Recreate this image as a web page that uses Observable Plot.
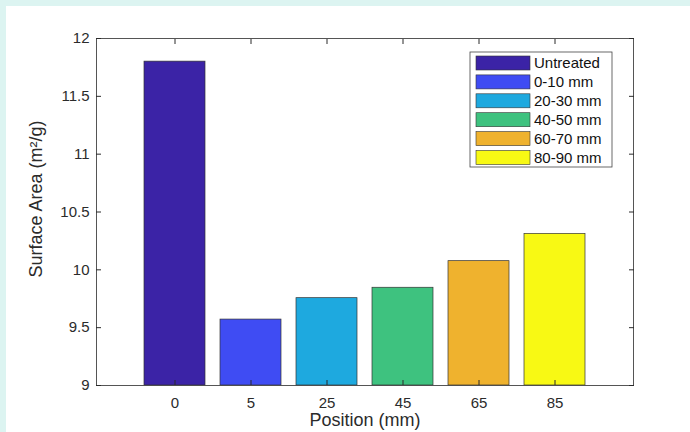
<!DOCTYPE html>
<html><head><meta charset="utf-8">
<script src="https://cdn.jsdelivr.net/npm/d3@7"></script>
<script src="https://cdn.jsdelivr.net/npm/@observablehq/plot@0.6"></script>
<style>
html,body{margin:0;padding:0;background:#dcf4f1;}
#chart{position:absolute;left:6px;top:6px;width:684px;height:426px;background:#fff;overflow:hidden}
</style></head><body><div id="chart"></div>
<script>
const positions = ["0", "5", "25", "45", "65", "85"];
const labels = ["Untreated", "0-10 mm", "20-30 mm", "40-50 mm", "60-70 mm", "80-90 mm"];
const values = [11.80, 9.57, 9.755, 9.845, 10.075, 10.31];
const yTicks = [9, 9.5, 10, 10.5, 11, 11.5, 12];
const colors = ["#3b23a6", "#3f4cf3", "#1ea9df", "#3ec27f", "#efb22e", "#f8f914"];
const yLabel = "Surface Area (m²/g)";
const xLabel = "Position (mm)";

const data = positions.map((p, i) => ({pos: p, label: labels[i], value: values[i]}));
const font = "'Liberation Sans', Arial, Helvetica, sans-serif";

const plot = Plot.plot({
  width: 684, height: 426,
  marginLeft: 90, marginRight: 57, marginTop: 32, marginBottom: 47,
  style: {background: "white", fontFamily: font, fontSize: "15px", color: "#2b2b2b"},
  x: {domain: positions, paddingInner: 0.2, paddingOuter: 0.6, label: null},
  y: {domain: [yTicks[0], yTicks[yTicks.length - 1]], label: null},
  color: {domain: labels, range: colors},
  marks: [
    Plot.barY(data, {x: "pos", y1: yTicks[0], y2: "value", fill: "label", stroke: "#333", strokeWidth: 0.7}),
    Plot.frame({stroke: "#444", strokeWidth: 0.9}),
    Plot.axisX({anchor: "bottom", tickSize: -5, tickPadding: 17, label: null}),
    Plot.axisX({anchor: "top", tickSize: -5, tickFormat: () => "", label: null}),
    Plot.axisY(yTicks, {anchor: "left", tickSize: -5, tickPadding: 12, tickFormat: d => String(d), label: null}),
    Plot.axisY(yTicks, {anchor: "right", tickSize: -5, tickFormat: () => "", label: null}),
    Plot.text([yLabel], {frameAnchor: "left", rotate: -90, textAnchor: "middle", lineAnchor: "middle", dx: -60, dy: -13, fontSize: 18, fill: "#2b2b2b", text: d => d}),
    Plot.text([xLabel], {frameAnchor: "bottom", textAnchor: "middle", lineAnchor: "middle", dy: 35, fontSize: 18, fill: "#2b2b2b", text: d => d})
  ]
});

const svg = d3.select(plot);
const g = svg.append("g").attr("font-family", font).attr("font-size", 15).attr("fill", "#111").attr("text-anchor", "start");
g.append("rect").attr("x", 464).attr("y", 46).attr("width", 142).attr("height", 115)
  .attr("fill", "white").attr("stroke", "#444").attr("stroke-width", 0.8);
labels.forEach((lab, i) => {
  const cy = 57 + i * 18.9;
  g.append("rect").attr("x", 470).attr("y", cy - 7).attr("width", 54).attr("height", 14)
    .attr("fill", colors[i]).attr("stroke", "#333").attr("stroke-width", 0.6);
  g.append("text").attr("x", 528).attr("y", cy).attr("dy", "0.35em").attr("text-anchor", "start").text(lab);
});

document.getElementById("chart").appendChild(plot);
</script>
</body></html>
